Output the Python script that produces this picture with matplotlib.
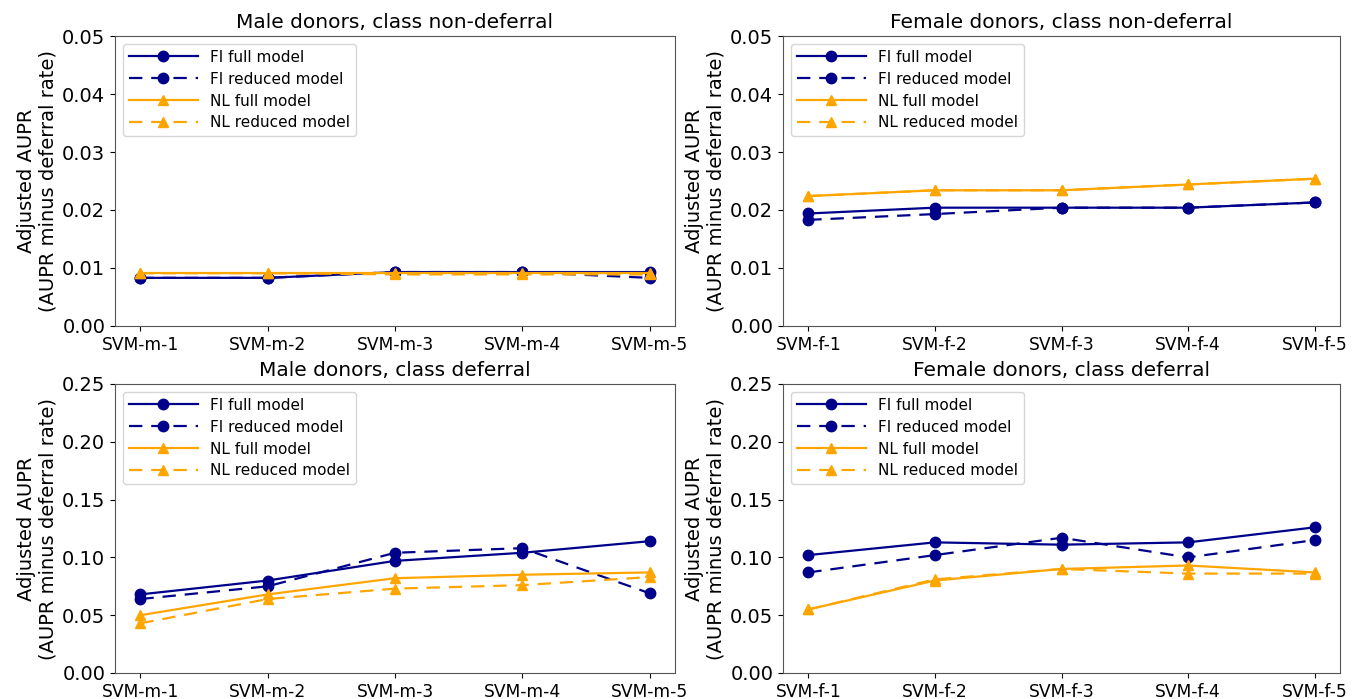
import matplotlib
matplotlib.use("Agg")
import matplotlib.pyplot as plt

models_m = ["SVM-m-1", "SVM-m-2", "SVM-m-3", "SVM-m-4", "SVM-m-5"]
models_f = ["SVM-f-1", "SVM-f-2", "SVM-f-3", "SVM-f-4", "SVM-f-5"]

# Male, non-deferral
m_nd_fi_full = [0.0083, 0.0083, 0.0093, 0.0093, 0.0093]
m_nd_fi_red = [0.0083, 0.0083, 0.0093, 0.0093, 0.0083]
m_nd_nl_full = [0.0091, 0.0091, 0.0091, 0.0091, 0.0091]
m_nd_nl_red = [0.0091, 0.0091, 0.0089, 0.0089, 0.0089]

# Female, non-deferral
f_nd_fi_full = [0.0194, 0.0204, 0.0204, 0.0204, 0.0213]
f_nd_fi_red = [0.0183, 0.0193, 0.0204, 0.0204, 0.0213]
f_nd_nl_full = [0.0224, 0.0234, 0.0234, 0.0244, 0.0254]
f_nd_nl_red = [0.0224, 0.0234, 0.0234, 0.0244, 0.0254]

# Male, deferral
m_d_fi_full = [0.068, 0.080, 0.097, 0.104, 0.114]
m_d_fi_red = [0.064, 0.075, 0.104, 0.108, 0.069]
m_d_nl_full = [0.050, 0.068, 0.082, 0.085, 0.087]
m_d_nl_red = [0.043, 0.064, 0.073, 0.076, 0.083]

# Female, deferral
f_d_fi_full = [0.102, 0.113, 0.111, 0.113, 0.126]
f_d_fi_red = [0.087, 0.102, 0.117, 0.100, 0.115]
f_d_nl_full = [0.055, 0.080, 0.090, 0.093, 0.087]
f_d_nl_red = [0.055, 0.081, 0.090, 0.086, 0.086]

titles = ["Male donors, class non-deferral", "Female donors, class non-deferral",
          "Male donors, class deferral", "Female donors, class deferral"]

panels = [
    (models_m, m_nd_fi_full, m_nd_fi_red, m_nd_nl_full, m_nd_nl_red, 0.05),
    (models_f, f_nd_fi_full, f_nd_fi_red, f_nd_nl_full, f_nd_nl_red, 0.05),
    (models_m, m_d_fi_full, m_d_fi_red, m_d_nl_full, m_d_nl_red, 0.25),
    (models_f, f_d_fi_full, f_d_fi_red, f_d_nl_full, f_d_nl_red, 0.25),
]

fig = plt.figure(figsize=(13.53, 6.99), dpi=100)
W, H = 1353, 699
rects = [
    (115, 36, 675, 326),
    (783, 36, 1340, 326),
    (115, 384, 675, 673),
    (783, 384, 1340, 673),
]
navy = "#00008B"
orange = "#FFA500"
dash = (6, 4)
for (x0, y0, x1, y1), title, (labels, fif, fir, nlf, nlr, ymax) in zip(rects, titles, panels):
    ax = fig.add_axes([x0 / W, 1 - y1 / H, (x1 - x0) / W, (y1 - y0) / H])
    xs = list(range(len(labels)))
    ax.plot(xs, fif, color=navy, marker="o", ls="-", ms=7.5, lw=1.6, label="FI full model")
    ax.plot(xs, fir, color=navy, marker="o", ls=(0, dash), ms=7.5, lw=1.6, label="FI reduced model")
    ax.plot(xs, nlf, color=orange, marker="^", ls="-", ms=7.5, lw=1.6, label="NL full model")
    ax.plot(xs, nlr, color=orange, marker="^", ls=(0, dash), ms=7.5, lw=1.6, label="NL reduced model")
    ax.set_ylim(0, ymax)
    ax.set_xticks(xs)
    ax.set_xticklabels(labels, fontsize=12.3)
    ax.tick_params(axis="y", labelsize=14)
    ax.set_title(title, fontsize=14.5)
    ax.set_ylabel("Adjusted AUPR\n(AUPR minus deferral rate)", fontsize=14, labelpad=3)
    ax.legend(loc="upper left", fontsize=11, handlelength=4.5, labelspacing=0.45)
    for s in ax.spines.values():
        s.set_color("#555555")

fig.savefig("out.png", dpi=100)
